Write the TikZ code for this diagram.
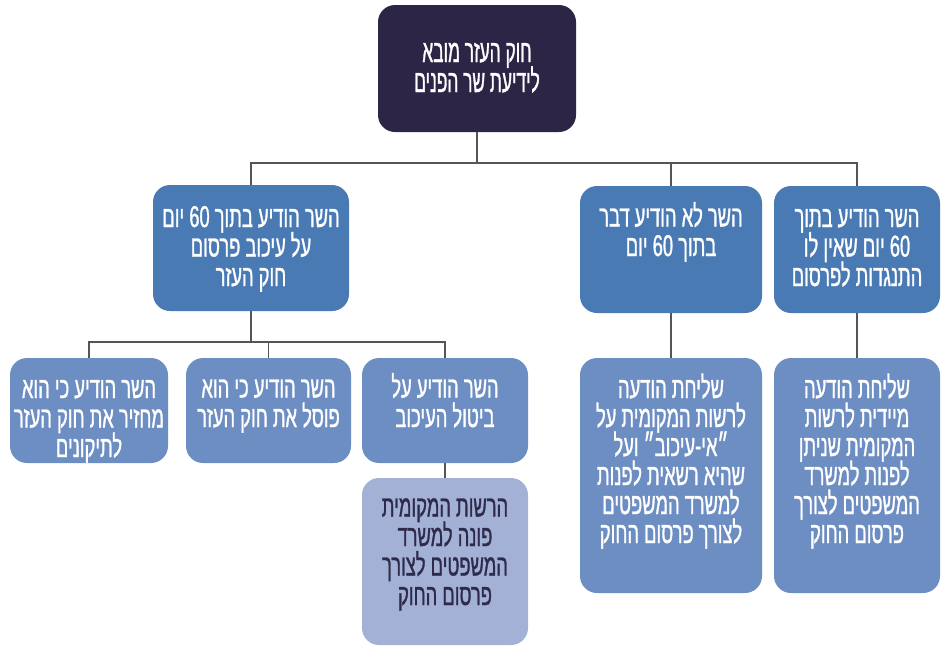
\documentclass[tikz,border=0pt]{standalone}
\usepackage{fontspec}
\TeXXeTstate=1
\newfontfamily\hebfont[Script=Hebrew,FakeStretch=0.61,FakeBold=1]{Liberation Sans}
\newfontfamily\hebrootfont[Script=Hebrew,FakeStretch=0.55,FakeBold=1]{Liberation Sans}
\newcommand{\RL}[1]{\beginR #1\endR}
\newcommand{\LRn}[1]{\beginL #1\endL{}}
\newcommand{\tightlines}{\lineskiplimit=-60pt\relax\lineskip=0pt\relax}
\definecolor{cRoot}{HTML}{2D2546}
\definecolor{cLtwo}{HTML}{4A7AB4}
\definecolor{cLthree}{HTML}{6D8EC2}
\definecolor{cLfour}{HTML}{A3B1D6}
\definecolor{cLine}{HTML}{555555}
\definecolor{cDark}{HTML}{2E2B4A}
\begin{document}
\begin{tikzpicture}[x=1pt,y=-1pt,
  box/.style={rounded corners=17pt, inner sep=0pt, draw=none},
  conn/.style={draw=cLine, line width=1.6pt},
  txt/.style={font=\hebfont\fontsize{30}{29.5}\selectfont\tightlines, align=center, anchor=base, inner sep=0pt, text=white},
  tallbox/.style={font=\hebfont\fontsize{30}{29}\selectfont\tightlines},
  roottxt/.style={txt, font=\hebrootfont\fontsize{31.5}{30}\selectfont\tightlines}]
\useasboundingbox (0,0) rectangle (944,648);
\fill[white] (0,0) rectangle (944,648);

% boxes
\node[box, fill=cRoot, minimum width=198pt, minimum height=127pt] (root) at (477,68.5) {};
\node[box, fill=cLtwo, minimum width=196pt, minimum height=126pt] (n1) at (251,248) {};
\node[box, fill=cLtwo, minimum width=182pt, minimum height=127pt] (n2) at (671,249.5) {};
\node[box, fill=cLtwo, minimum width=166pt, minimum height=127pt] (n3) at (857,249.5) {};
\node[box, fill=cLthree, minimum width=158pt, minimum height=105pt] (n11) at (89,410.5) {};
\node[box, fill=cLthree, minimum width=165pt, minimum height=105pt] (n12) at (268.5,410.5) {};
\node[box, fill=cLthree, minimum width=166pt, minimum height=105pt] (n13) at (445,410.5) {};
\node[box, fill=cLfour, minimum width=166pt, minimum height=167pt] (n131) at (445,561.5) {};
\node[box, fill=cLthree, minimum width=182pt, minimum height=235pt] (n21) at (671,475.5) {};
\node[box, fill=cLthree, minimum width=166pt, minimum height=235pt] (n31) at (857,475.5) {};

% connectors
\coordinate (bus1) at (477,163);
\coordinate (bus2) at (251,342);
\draw[conn] (root.south) -- (bus1);
\draw[conn] (n1.north) |- (bus1) -| (n3.north);
\draw[conn] (n2.north) -- (n2.north |- bus1);
\draw[conn] (n1.south) -- (bus2);
\draw[conn] (n11.north) |- (bus2) -| (n13.north);
\draw[conn] (n12.north) -- (n12.north |- bus2);
\draw[conn] (n13.south) -- (n131.north);
\draw[conn] (n2.south) -- (n21.north);
\draw[conn] (n3.south) -- (n31.north);

% texts (anchor base = baseline of the last line)
\node[roottxt] (t0) at (477,92) {\RL{חוק העזר מובא}\\\RL{לידיעת שר הפנים}};
\node[txt] (t1) at (251,286) {\RL{השר הודיע בתוך \LRn{60} יום}\\\RL{על עיכוב פרסום}\\\RL{חוק העזר}};
\node[txt] (t2) at (671,256) {\RL{השר לא הודיע דבר}\\\RL{בתוך \LRn{60} יום}};
\node[txt] (t3) at (857,286) {\RL{השר הודיע בתוך}\\\RL{\LRn{60} יום שאין לו}\\\RL{התנגדות לפרסום}};
\node[txt] (t11) at (89,457) {\RL{השר הודיע כי הוא}\\\RL{מחזיר את חוק העזר}\\\RL{לתיקונים}};
\node[txt] (t12) at (268.5,427) {\RL{השר הודיע כי הוא}\\\RL{פוסל את חוק העזר}};
\node[txt] (t13) at (445,427) {\RL{השר הודיע על}\\\RL{ביטול העיכוב}};
\node[txt, text=cDark] (t131) at (445,605) {\RL{הרשות המקומית}\\\RL{פונה למשרד}\\\RL{המשפטים לצורך}\\\RL{פרסום החוק}};
\node[txt, tallbox] (t21) at (671,543) {\RL{שליחת הודעה}\\\RL{לרשות המקומית על}\\\RL{״אי-עיכוב״ ועל}\\\RL{שהיא רשאית לפנות}\\\RL{למשרד המשפטים}\\\RL{לצורך פרסום החוק}};
\node[txt, tallbox] (t31) at (857,543) {\RL{שליחת הודעה}\\\RL{מיידית לרשות}\\\RL{המקומית שניתן}\\\RL{לפנות למשרד}\\\RL{המשפטים לצורך}\\\RL{פרסום החוק}};
\end{tikzpicture}
\end{document}
